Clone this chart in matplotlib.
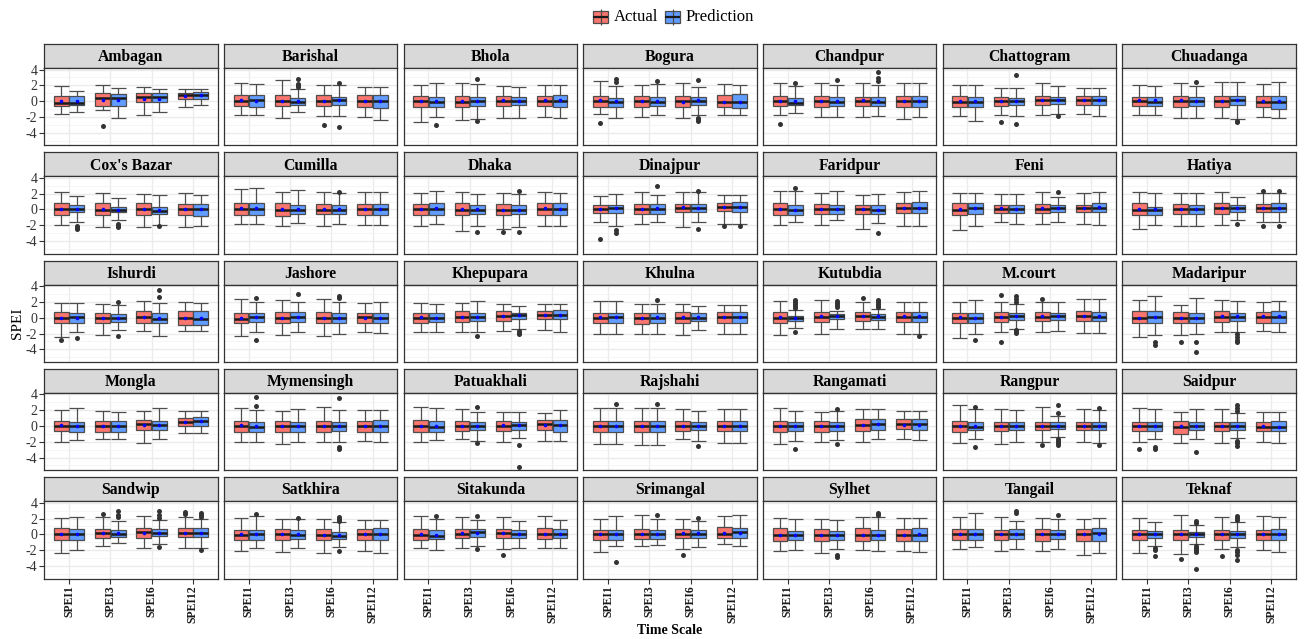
import matplotlib
matplotlib.use("Agg")
import matplotlib.pyplot as plt
from matplotlib.patches import Rectangle

plt.rcParams['font.family'] = ['Liberation Serif', 'DejaVu Serif']

STATIONS = [
    "Ambagan", "Barishal", "Bhola", "Bogura", "Chandpur", "Chattogram", "Chuadanga",
    "Cox's Bazar", "Cumilla", "Dhaka", "Dinajpur", "Faridpur", "Feni", "Hatiya",
    "Ishurdi", "Jashore", "Khepupara", "Khulna", "Kutubdia", "M.court", "Madaripur",
    "Mongla", "Mymensingh", "Patuakhali", "Rajshahi", "Rangamati", "Rangpur", "Saidpur",
    "Sandwip", "Satkhira", "Sitakunda", "Srimangal", "Sylhet", "Tangail", "Teknaf",
]
TIME_SCALES = ["SPEI1", "SPEI3", "SPEI6", "SPEI12"]
GROUPS = ["Actual", "Prediction"]

# Box order inside each station row:
# SPEI1-Actual, SPEI1-Prediction, SPEI3-Actual, SPEI3-Prediction,
# SPEI6-Actual, SPEI6-Prediction, SPEI12-Actual, SPEI12-Prediction
WHISKER_LOW = [
    [-1.67, -1.33, -1.17, -2.08, -1.75, -1.33, -0.75, -0.50],  # Ambagan
    [-1.75, -1.75, -2.10, -1.42, -1.83, -1.92, -2.00, -2.33],  # Barishal
    [-2.60, -1.96, -2.40, -2.30, -2.20, -2.10, -2.04, -2.20],  # Bhola
    [-1.62, -2.20, -1.96, -1.80, -2.10, -1.80, -1.80, -1.80],  # Bogura
    [-1.72, -1.45, -1.98, -1.98, -1.98, -1.90, -2.25, -2.07],  # Chandpur
    [-1.87, -2.54, -1.80, -1.87, -1.80, -1.62, -1.62, -1.87],  # Chattogram
    [-1.70, -1.70, -2.10, -2.10, -2.10, -2.30, -2.04, -2.10],  # Chuadanga
    [-1.92, -1.54, -2.20, -1.37, -2.20, -1.95, -2.20, -2.12],  # Cox's Bazar
    [-1.80, -1.83, -2.04, -1.70, -2.12, -1.80, -2.00, -2.00],  # Cumilla
    [-2.08, -1.83, -2.70, -2.04, -2.46, -2.20, -2.08, -2.12],  # Dhaka
    [-1.62, -2.04, -1.80, -1.54, -2.20, -1.54, -1.90, -1.90],  # Dinajpur
    [-1.96, -1.55, -2.00, -1.40, -2.45, -1.75, -2.10, -2.10],  # Faridpur
    [-2.62, -2.12, -1.54, -1.80, -1.80, -1.62, -1.80, -1.96],  # Feni
    [-2.46, -1.96, -2.12, -2.12, -1.96, -1.37, -1.54, -1.54],  # Hatiya
    [-2.46, -1.87, -2.20, -1.54, -1.70, -2.29, -1.62, -1.62],  # Ishurdi
    [-2.37, -1.87, -2.20, -1.87, -2.29, -2.04, -1.87, -1.96],  # Jashore
    [-1.83, -1.87, -1.75, -1.80, -1.67, -1.42, -1.58, -1.75],  # Khepupara
    [-2.12, -2.12, -2.04, -2.04, -2.20, -1.54, -2.00, -2.00],  # Khulna
    [-2.25, -1.32, -2.10, -1.37, -1.41, -1.37, -2.03, -2.00],  # Kutubdia
    [-2.62, -2.04, -1.87, -1.37, -1.80, -1.62, -1.96, -1.96],  # M.court
    [-2.46, -2.20, -2.20, -2.12, -1.87, -1.80, -1.70, -1.87],  # Madaripur
    [-2.00, -1.83, -1.62, -1.62, -2.17, -1.62, -0.92, -0.87],  # Mongla
    [-2.04, -2.04, -2.25, -2.08, -2.08, -2.08, -1.96, -2.04],  # Mymensingh
    [-2.00, -1.83, -1.62, -1.90, -2.00, -1.46, -1.87, -1.87],  # Patuakhali
    [-2.29, -2.29, -2.46, -2.37, -1.62, -1.96, -2.12, -2.12],  # Rajshahi
    [-2.25, -1.90, -1.98, -1.80, -2.03, -1.67, -1.63, -1.72],  # Rangamati
    [-2.20, -1.70, -2.29, -2.04, -2.04, -1.37, -2.04, -2.10],  # Rangpur
    [-2.04, -1.62, -2.20, -1.62, -2.20, -1.54, -2.04, -2.20],  # Saidpur
    [-2.42, -2.00, -1.50, -1.08, -1.70, -1.17, -1.70, -1.75],  # Sandwip
    [-2.08, -1.75, -2.25, -1.75, -2.33, -1.58, -2.17, -2.33],  # Satkhira
    [-1.79, -2.00, -1.79, -1.50, -1.87, -1.67, -1.70, -1.70],  # Sitakunda
    [-2.20, -1.42, -1.50, -1.37, -1.92, -1.58, -1.25, -1.50],  # Srimangal
    [-2.10, -1.98, -2.33, -1.80, -1.98, -2.10, -2.10, -2.25],  # Sylhet
    [-1.80, -1.58, -2.08, -1.80, -2.08, -1.80, -2.58, -2.42],  # Tangail
    [-2.33, -1.50, -2.50, -1.20, -1.83, -1.58, -2.00, -2.25],  # Teknaf
]
Q1 = [
    [-0.58, -0.50, -0.58, -0.67, -0.17, -0.17, 0.25, 0.33],
    [-0.67, -0.75, -0.67, -0.50, -0.67, -0.50, -0.75, -0.83],
    [-0.70, -0.70, -0.80, -0.62, -0.62, -0.54, -0.62, -0.70],
    [-0.70, -0.70, -0.70, -0.62, -0.70, -0.54, -0.80, -0.87],
    [-0.66, -0.53, -0.75, -0.66, -0.66, -0.57, -0.75, -0.75],
    [-0.80, -0.80, -0.62, -0.46, -0.46, -0.37, -0.46, -0.46],
    [-0.62, -0.62, -0.70, -0.62, -0.70, -0.54, -0.70, -0.96],
    [-0.70, -0.37, -0.70, -0.37, -0.70, -0.62, -0.70, -0.80],
    [-0.70, -0.70, -0.83, -0.62, -0.62, -0.54, -0.70, -0.70],
    [-0.70, -0.70, -0.70, -0.62, -0.70, -0.62, -0.70, -0.70],
    [-0.46, -0.46, -0.54, -0.54, -0.37, -0.30, -0.20, -0.30],
    [-0.72, -0.70, -0.55, -0.55, -0.55, -0.55, -0.50, -0.50],
    [-0.70, -0.54, -0.46, -0.46, -0.46, -0.30, -0.37, -0.37],
    [-0.70, -0.70, -0.62, -0.62, -0.54, -0.37, -0.37, -0.30],
    [-0.62, -0.62, -0.62, -0.54, -0.70, -0.62, -0.96, -0.96],
    [-0.62, -0.54, -0.62, -0.54, -0.70, -0.62, -0.70, -0.70],
    [-0.62, -0.58, -0.54, -0.46, -0.46, -0.20, -0.20, -0.20],
    [-0.70, -0.62, -0.80, -0.70, -0.70, -0.46, -0.62, -0.62],
    [-0.70, -0.40, -0.48, -0.18, -0.40, -0.35, -0.53, -0.53],
    [-0.70, -0.62, -0.54, -0.29, -0.46, -0.29, -0.46, -0.46],
    [-0.70, -0.62, -0.62, -0.62, -0.54, -0.46, -0.62, -0.62],
    [-0.62, -0.70, -0.70, -0.80, -0.46, -0.54, -0.04, 0.04],
    [-0.70, -0.80, -0.70, -0.70, -0.70, -0.62, -0.70, -0.80],
    [-0.75, -0.75, -0.67, -0.54, -0.67, -0.54, -0.54, -0.70],
    [-0.75, -0.75, -0.75, -0.75, -0.67, -0.54, -0.67, -0.67],
    [-0.75, -0.66, -0.75, -0.57, -0.57, -0.48, -0.40, -0.48],
    [-0.75, -0.54, -0.62, -0.54, -0.54, -0.37, -0.54, -0.54],
    [-0.62, -0.62, -0.96, -0.54, -0.62, -0.46, -0.62, -0.62],
    [-0.67, -0.67, -0.46, -0.33, -0.42, -0.25, -0.33, -0.33],
    [-0.67, -0.67, -0.67, -0.58, -0.75, -0.58, -0.75, -0.75],
    [-0.75, -0.62, -0.50, -0.33, -0.50, -0.50, -0.58, -0.50],
    [-0.67, -0.67, -0.58, -0.58, -0.50, -0.50, -0.42, -0.42],
    [-0.88, -0.75, -0.84, -0.66, -0.84, -0.75, -0.84, -0.84],
    [-0.75, -0.75, -0.67, -0.58, -0.83, -0.58, -0.83, -0.83],
    [-0.67, -0.42, -0.67, -0.33, -0.75, -0.42, -0.67, -0.67],
]
MEDIAN = [
    [-0.25, -0.20, 0.40, 0.37, 0.54, 0.50, 0.75, 0.83],
    [0.00, 0.08, 0.00, -0.17, 0.00, 0.08, 0.00, 0.00],
    [0.00, -0.08, -0.10, 0.00, 0.04, -0.04, 0.04, 0.04],
    [0.00, -0.12, 0.00, -0.17, -0.04, 0.04, -0.08, -0.12],
    [-0.04, -0.22, -0.04, -0.13, -0.04, -0.13, -0.04, -0.04],
    [-0.08, -0.08, -0.04, -0.04, 0.12, 0.12, 0.12, 0.12],
    [0.00, -0.08, 0.00, -0.04, 0.00, 0.08, -0.08, -0.17],
    [0.00, 0.00, -0.08, -0.08, 0.00, -0.20, 0.04, 0.00],
    [0.00, 0.00, -0.04, -0.04, -0.04, -0.04, 0.00, 0.00],
    [0.00, 0.04, -0.04, -0.04, -0.08, -0.04, 0.04, 0.04],
    [0.00, 0.12, 0.00, 0.08, 0.20, 0.20, 0.30, 0.30],
    [0.00, -0.12, 0.04, 0.04, 0.04, -0.04, 0.12, 0.12],
    [-0.04, 0.12, 0.08, 0.04, 0.08, 0.17, 0.12, 0.12],
    [-0.04, -0.12, 0.00, 0.00, 0.12, 0.12, 0.12, 0.12],
    [-0.08, 0.04, -0.04, -0.08, 0.04, -0.17, -0.04, -0.17],
    [-0.12, 0.04, -0.04, 0.04, -0.04, -0.04, 0.04, -0.04],
    [-0.04, 0.00, 0.04, 0.12, 0.17, 0.29, 0.37, 0.29],
    [0.00, 0.04, -0.08, 0.00, 0.00, 0.00, 0.04, 0.04],
    [-0.04, -0.09, 0.13, 0.18, 0.18, 0.09, 0.09, 0.09],
    [-0.08, -0.08, 0.08, 0.20, 0.12, 0.20, 0.20, 0.12],
    [-0.04, 0.04, -0.04, -0.04, 0.12, 0.12, 0.12, 0.12],
    [0.00, 0.00, 0.00, 0.00, 0.20, 0.12, 0.54, 0.62],
    [0.04, -0.12, 0.00, 0.00, -0.04, 0.00, 0.00, 0.00],
    [-0.04, -0.08, 0.04, -0.04, 0.00, 0.12, 0.25, 0.17],
    [-0.04, -0.04, 0.04, 0.00, 0.04, -0.04, 0.00, 0.00],
    [-0.04, -0.04, -0.04, 0.04, 0.13, 0.22, 0.22, 0.22],
    [-0.04, -0.12, -0.04, 0.04, -0.04, -0.04, 0.00, 0.00],
    [-0.04, 0.00, -0.12, -0.04, -0.04, -0.04, -0.12, -0.12],
    [0.00, 0.08, 0.17, 0.08, 0.25, 0.20, 0.20, 0.20],
    [-0.08, 0.08, 0.00, -0.08, -0.08, -0.17, 0.08, 0.08],
    [-0.04, -0.25, 0.08, 0.25, 0.17, 0.00, 0.08, 0.08],
    [0.00, 0.00, 0.08, 0.00, 0.08, 0.08, 0.08, 0.25],
    [-0.04, -0.09, -0.04, -0.13, -0.04, -0.13, -0.04, -0.04],
    [0.00, 0.08, 0.00, 0.08, 0.00, 0.08, 0.00, 0.17],
    [0.00, 0.08, 0.00, 0.08, 0.00, 0.08, 0.00, 0.00],
]
Q3 = [
    [0.67, 0.67, 1.00, 0.92, 1.08, 1.00, 1.08, 1.17],
    [0.75, 0.75, 0.75, 0.42, 0.75, 0.58, 0.75, 0.75],
    [0.70, 0.54, 0.70, 0.54, 0.70, 0.54, 0.70, 0.83],
    [0.62, 0.37, 0.70, 0.54, 0.70, 0.54, 0.80, 0.96],
    [0.70, 0.44, 0.70, 0.57, 0.57, 0.57, 0.70, 0.70],
    [0.70, 0.54, 0.54, 0.37, 0.70, 0.54, 0.70, 0.70],
    [0.54, 0.54, 0.70, 0.54, 0.70, 0.70, 0.70, 0.70],
    [0.80, 0.50, 0.80, 0.37, 0.80, 0.37, 0.70, 0.70],
    [0.80, 0.80, 0.80, 0.62, 0.70, 0.54, 0.70, 0.70],
    [0.70, 0.87, 0.80, 0.58, 0.67, 0.50, 0.80, 0.80],
    [0.54, 0.62, 0.70, 0.70, 0.70, 0.70, 0.87, 0.96],
    [0.80, 0.60, 0.70, 0.60, 0.60, 0.50, 0.80, 0.90],
    [0.80, 0.80, 0.62, 0.54, 0.70, 0.54, 0.62, 0.80],
    [0.80, 0.37, 0.70, 0.54, 0.80, 0.54, 0.70, 0.80],
    [0.70, 0.62, 0.62, 0.46, 0.80, 0.54, 0.87, 0.87],
    [0.62, 0.62, 0.70, 0.70, 0.70, 0.62, 0.62, 0.62],
    [0.54, 0.54, 0.80, 0.54, 0.80, 0.62, 0.87, 0.96],
    [0.62, 0.62, 0.62, 0.62, 0.70, 0.54, 0.70, 0.70],
    [0.70, 0.26, 0.70, 0.53, 0.75, 0.53, 0.70, 0.70],
    [0.62, 0.54, 0.70, 0.54, 0.70, 0.62, 0.80, 0.70],
    [0.80, 0.80, 0.70, 0.62, 0.80, 0.62, 0.70, 0.80],
    [0.62, 0.54, 0.62, 0.70, 0.80, 0.70, 0.96, 1.12],
    [0.62, 0.54, 0.70, 0.54, 0.62, 0.54, 0.70, 0.80],
    [0.80, 0.62, 0.62, 0.50, 0.70, 0.50, 0.80, 0.80],
    [0.62, 0.62, 0.70, 0.70, 0.70, 0.50, 0.62, 0.62],
    [0.66, 0.48, 0.66, 0.48, 0.84, 0.84, 0.84, 0.84],
    [0.62, 0.46, 0.54, 0.54, 0.54, 0.46, 0.54, 0.54],
    [0.46, 0.46, 0.62, 0.54, 0.54, 0.46, 0.54, 0.70],
    [0.75, 0.67, 0.67, 0.50, 0.80, 0.67, 0.75, 0.75],
    [0.58, 0.58, 0.67, 0.50, 0.67, 0.33, 0.67, 0.75],
    [0.70, 0.50, 0.67, 0.62, 0.67, 0.58, 0.75, 0.67],
    [0.58, 0.50, 0.67, 0.50, 0.67, 0.50, 0.92, 0.83],
    [0.75, 0.48, 0.66, 0.48, 0.75, 0.57, 0.66, 0.75],
    [0.67, 0.67, 0.58, 0.67, 0.67, 0.58, 0.67, 0.75],
    [0.58, 0.42, 0.58, 0.33, 0.58, 0.42, 0.50, 0.67],
]
WHISKER_HIGH = [
    [1.90, 1.33, 2.00, 1.67, 1.75, 1.50, 1.58, 1.58],
    [2.25, 2.17, 2.67, 1.58, 2.00, 2.05, 1.75, 1.83],
    [2.08, 2.30, 2.30, 2.20, 1.96, 1.80, 2.04, 2.04],
    [2.54, 1.87, 2.04, 2.20, 2.30, 1.80, 2.20, 2.10],
    [2.33, 1.95, 2.33, 2.03, 2.25, 2.07, 2.33, 2.25],
    [2.10, 2.04, 1.70, 1.70, 2.30, 1.87, 1.62, 1.70],
    [2.10, 1.96, 2.30, 1.96, 2.37, 2.37, 2.20, 2.37],
    [2.25, 1.67, 2.04, 1.46, 1.92, 1.80, 2.04, 1.83],
    [2.60, 2.70, 2.25, 2.46, 2.25, 2.05, 2.17, 2.17],
    [2.12, 2.33, 2.25, 1.92, 2.12, 1.92, 2.17, 2.08],
    [1.70, 1.96, 2.20, 1.87, 2.20, 2.20, 1.87, 1.87],
    [2.30, 2.30, 2.10, 2.30, 1.80, 2.00, 2.20, 2.30],
    [2.04, 2.12, 1.96, 1.96, 2.20, 1.62, 2.12, 2.20],
    [2.20, 2.12, 2.04, 2.04, 2.20, 1.62, 2.12, 2.12],
    [1.92, 1.92, 1.80, 1.67, 2.17, 1.92, 2.00, 1.92],
    [2.42, 2.04, 2.29, 2.04, 2.37, 2.04, 1.92, 1.96],
    [1.92, 1.70, 1.92, 2.08, 1.70, 1.54, 1.80, 1.70],
    [2.08, 2.08, 1.80, 1.80, 1.80, 1.46, 1.67, 1.67],
    [2.07, 0.97, 2.20, 0.88, 1.94, 1.06, 1.94, 1.94],
    [2.04, 2.29, 2.04, 1.70, 1.96, 1.96, 2.37, 2.37],
    [2.20, 2.70, 1.62, 2.54, 2.20, 2.12, 2.04, 2.12],
    [2.00, 2.29, 1.87, 1.75, 1.87, 2.25, 1.96, 1.96],
    [2.25, 2.00, 1.87, 2.12, 2.37, 2.00, 2.00, 2.00],
    [2.37, 2.29, 2.17, 1.75, 1.75, 1.75, 1.70, 2.04],
    [2.29, 2.29, 2.29, 2.29, 2.20, 1.96, 2.17, 2.17],
    [2.25, 1.90, 1.80, 1.90, 2.16, 2.16, 1.90, 1.90],
    [2.62, 2.10, 2.20, 2.04, 2.37, 1.30, 2.20, 2.00],
    [2.29, 2.20, 1.80, 2.12, 2.12, 1.62, 1.80, 1.80],
    [2.08, 2.17, 2.17, 1.75, 2.33, 1.80, 2.25, 1.92],
    [2.08, 2.30, 1.92, 1.90, 1.92, 1.50, 1.83, 1.83],
    [2.29, 2.00, 2.20, 1.80, 2.20, 1.75, 2.29, 1.83],
    [1.96, 2.33, 2.50, 1.92, 1.96, 1.70, 2.33, 2.42],
    [2.07, 1.98, 1.90, 1.80, 2.25, 2.15, 2.07, 2.07],
    [2.25, 2.67, 2.17, 1.67, 2.08, 1.92, 1.96, 2.08],
    [2.08, 1.58, 2.42, 1.20, 2.25, 1.58, 2.33, 2.17],
]
MEAN = [
    [0.05, 0.04, 0.20, 0.15, 0.33, 0.33, 0.70, 0.75],
    [0.10, 0.00, 0.05, 0.00, 0.05, 0.17, 0.00, 0.00],
    [0.00, 0.00, 0.00, 0.04, 0.08, 0.00, 0.08, 0.08],
    [0.08, -0.04, 0.00, 0.00, -0.08, 0.08, -0.08, -0.08],
    [0.04, -0.04, -0.04, -0.04, 0.09, 0.04, 0.04, 0.04],
    [-0.04, -0.04, -0.04, -0.04, 0.17, 0.20, 0.12, 0.12],
    [0.08, 0.08, 0.08, 0.00, 0.04, 0.12, 0.00, -0.04],
    [0.00, 0.08, 0.00, -0.04, 0.00, -0.08, 0.00, 0.00],
    [0.12, 0.12, 0.00, 0.00, 0.00, 0.00, 0.00, 0.00],
    [0.08, 0.17, 0.04, 0.04, -0.12, -0.04, 0.12, 0.08],
    [0.04, 0.12, 0.04, 0.12, 0.25, 0.20, 0.33, 0.33],
    [0.04, -0.04, 0.04, 0.04, 0.00, -0.04, 0.12, 0.12],
    [0.04, 0.20, 0.12, 0.08, 0.12, 0.20, 0.17, 0.25],
    [0.08, 0.00, 0.04, 0.04, 0.17, 0.17, 0.17, 0.17],
    [-0.04, 0.00, 0.00, 0.00, 0.12, -0.04, 0.00, -0.04],
    [0.00, 0.12, 0.00, 0.08, -0.04, 0.00, -0.08, -0.08],
    [0.04, 0.00, 0.12, 0.08, 0.20, 0.29, 0.37, 0.37],
    [0.04, 0.08, 0.00, 0.04, 0.04, 0.04, 0.08, 0.08],
    [0.09, 0.00, 0.26, 0.26, 0.26, 0.18, 0.22, 0.18],
    [0.04, -0.04, 0.12, 0.20, 0.17, 0.25, 0.25, 0.20],
    [0.00, 0.08, -0.04, 0.00, 0.17, 0.17, 0.17, 0.17],
    [0.08, 0.00, 0.00, 0.00, 0.12, 0.17, 0.50, 0.58],
    [0.08, -0.04, 0.00, 0.00, 0.00, 0.00, 0.00, 0.00],
    [0.00, 0.00, 0.04, 0.00, 0.08, 0.08, 0.08, 0.08],
    [-0.04, -0.04, 0.04, 0.04, 0.04, -0.04, 0.00, 0.00],
    [-0.04, -0.04, -0.04, 0.04, 0.13, 0.22, 0.18, 0.18],
    [0.04, -0.04, 0.00, 0.04, 0.00, -0.04, 0.04, 0.04],
    [0.00, 0.04, -0.04, 0.00, 0.00, 0.04, -0.04, -0.08],
    [0.04, 0.04, 0.20, 0.17, 0.20, 0.20, 0.20, 0.20],
    [0.00, 0.04, 0.00, 0.00, -0.08, -0.12, 0.00, 0.04],
    [0.00, -0.04, 0.12, 0.17, 0.12, 0.00, 0.08, 0.08],
    [0.04, 0.00, 0.08, 0.04, 0.12, 0.12, 0.17, 0.20],
    [-0.04, -0.04, -0.04, -0.04, -0.04, -0.04, -0.04, 0.04],
    [0.04, 0.08, 0.00, 0.08, 0.00, 0.08, 0.00, 0.00],
    [0.00, 0.04, 0.00, 0.04, 0.04, 0.04, 0.08, 0.04],
]
# Points beyond the whiskers, keyed by station, then by box position (0-7)
OUTLIERS = {
    "Ambagan": {2: [-3.2]},
    "Barishal": {3: [2.75, 2.2, 2.0, 1.85], 4: [-3.0], 5: [2.25, -3.25]},
    "Bhola": {1: [-3.0], 3: [2.85, -2.55]},
    "Bogura": {0: [-2.8], 1: [2.75, 2.4], 3: [2.6], 5: [2.67, -2.1, -2.3, -2.5]},
    "Chandpur": {0: [-2.86], 1: [2.3], 3: [2.73], 5: [3.74, 2.95, 2.5]},
    "Chattogram": {2: [-2.67], 3: [3.37, -2.96], 5: [-1.9]},
    "Chuadanga": {3: [2.46], 5: [-2.54, -2.7]},
    "Cox's Bazar": {1: [-2.04, -2.3, -2.54], 3: [-1.8, -2.04, -2.2], 5: [-2.15]},
    "Cumilla": {5: [2.2]},
    "Dhaka": {3: [-2.83], 4: [-2.87], 5: [2.33, -2.9]},
    "Dinajpur": {0: [-3.7], 1: [-2.67, -2.96], 3: [2.96], 5: [2.35, -2.46], 6: [-2.1], 7: [-2.1]},
    "Faridpur": {1: [2.75], 5: [-2.95]},
    "Feni": {5: [2.17]},
    "Hatiya": {5: [-1.87], 6: [2.37, -2.12], 7: [2.37, -2.04]},
    "Ishurdi": {0: [-2.79], 1: [-2.62], 3: [2.0, -2.29], 5: [3.46, 2.62]},
    "Jashore": {1: [2.54, -2.87], 3: [3.04], 5: [2.8, 2.54]},
    "Khepupara": {3: [-2.33], 5: [-1.65, -1.9, -2.1]},
    "Khulna": {3: [2.29]},
    "Kutubdia": {1: [2.3, 2.0, 1.7, 1.45, 1.2, -1.76], 3: [2.07, 1.85, 1.63, 1.4], 4: [2.55],
                 5: [2.3, 2.0, 1.75, 1.5, 1.3], 7: [-2.35]},
    "M.court": {1: [-2.87], 2: [2.83, -3.04], 3: [2.75, 2.37, 2.0, -1.54, -1.8, -1.96], 4: [2.37]},
    "Madaripur": {1: [-3.12, -3.4], 2: [-3.12], 3: [-3.04, -4.3], 5: [-2.04, -2.46, -2.8, -3.1]},
    "Mongla": {},
    "Mymensingh": {1: [3.62, 2.54], 5: [3.54, -2.7, -2.96]},
    "Patuakhali": {3: [2.42, -2.1], 5: [-2.37, -5.2]},
    "Rajshahi": {1: [2.8], 3: [2.8], 5: [-2.54]},
    "Rangamati": {1: [-2.9], 3: [2.1, -2.33]},
    "Rangpur": {1: [2.35, -2.7], 4: [-2.46], 5: [2.7, 1.7, -1.6, -1.87, -2.2, -2.46], 7: [2.3, -2.4]},
    "Saidpur": {0: [-2.87], 1: [-2.7, -2.96], 3: [-3.29], 5: [2.62, 2.29, 1.87, -1.87, -2.2, -2.54]},
    "Sandwip": {2: [2.62], 3: [2.96, 2.42, 2.17], 5: [3.0, 2.4, 2.1, -1.6], 6: [2.83, 2.58],
                7: [2.7, 2.46, 2.25, -2.0]},
    "Satkhira": {1: [2.6], 3: [2.1], 5: [2.25, 2.0, 1.75, -2.08]},
    "Sitakunda": {1: [2.29], 3: [2.3, -1.85], 4: [-2.62]},
    "Srimangal": {1: [-3.46], 3: [2.42], 4: [-2.58], 5: [2.1]},
    "Sylhet": {3: [-2.6, -2.86], 5: [2.7, 2.4]},
    "Tangail": {3: [3.0, 2.75], 5: [2.42]},
    "Teknaf": {1: [-1.75, -2.0, -2.75], 2: [-3.12],
               3: [1.45, 1.7, -1.5, -1.7, -1.9, -2.1, -2.3, -4.4], 4: [-2.75],
               5: [2.33, 2.1, 1.85, -2.0, -2.3, -2.6, -3.3]},
}

FILL = {"Actual": "#F8766D", "Prediction": "#619CFF"}
EDGE = "#4D4D4D"
DARK = "#333333"

W, H = 1306, 639
fig = plt.figure(figsize=(W / 100, H / 100), dpi=100)


def frect(x, ytop, w, h):
    return [x / W, 1 - (ytop + h) / H, w / W, h / H]


COL_X0, COL_STEP, PANEL_W = 44.3, 179.67, 173.4
ROW_Y0, ROW_STEP, STRIP_H, PANEL_H = 44.0, 108.3, 24.0, 77.3
BOX_W = 0.36
OFFSET = {"Actual": -0.1875, "Prediction": 0.1875}
NCOL = 7
NROW = 5

for i, name in enumerate(STATIONS):
    r, c = divmod(i, NCOL)
    x0 = COL_X0 + c * COL_STEP
    y0 = ROW_Y0 + r * ROW_STEP

    # facet strip
    sax = fig.add_axes(frect(x0, y0, PANEL_W, STRIP_H))
    sax.set_facecolor("#D9D9D9")
    sax.set_xticks([])
    sax.set_yticks([])
    for sp in sax.spines.values():
        sp.set_color(DARK)
        sp.set_linewidth(0.9)
    sax.text(0.5, 0.45, name, ha="center", va="center", fontsize=11.3,
             fontweight="bold", transform=sax.transAxes)

    # panel
    ax = fig.add_axes(frect(x0, y0 + STRIP_H, PANEL_W, PANEL_H))
    ax.set_xlim(0.4, 4.6)
    ax.set_ylim(-5.6, 4.2)
    ax.set_yticks([-4, -2, 0, 2, 4])
    ax.set_yticks([-5, -3, -1, 1, 3], minor=True)
    ax.set_xticks([1, 2, 3, 4])
    ax.grid(which="major", color="#EBEBEB", linewidth=1.0, zorder=0)
    ax.grid(which="minor", axis="y", color="#F4F4F4", linewidth=0.6, zorder=0)
    ax.set_axisbelow(True)
    for sp in ax.spines.values():
        sp.set_color(DARK)
        sp.set_linewidth(0.9)
        sp.set_zorder(10)
    ax.tick_params(which="minor", length=0)
    ax.tick_params(axis="both", which="major", color=DARK, length=3.5, width=0.8, pad=1.5)

    if c == 0:
        ax.set_yticklabels(["-4", "-2", "0", "2", "4"], fontsize=10, color="#333333")
    else:
        ax.tick_params(axis="y", which="major", length=0, labelleft=False)
    if r == NROW - 1:
        ax.set_xticklabels(TIME_SCALES, rotation=90, fontsize=8.5, fontweight="bold",
                           color="#1A1A1A")
    else:
        ax.tick_params(axis="x", which="major", length=0, labelbottom=False)

    outl = OUTLIERS.get(name, {})
    for k, ts in enumerate(TIME_SCALES):
        for g, grp in enumerate(GROUPS):
            j = 2 * k + g
            x = k + 1 + OFFSET[grp]
            lo, q1, md = WHISKER_LOW[i][j], Q1[i][j], MEDIAN[i][j]
            q3, hi, mn = Q3[i][j], WHISKER_HIGH[i][j], MEAN[i][j]
            half = BOX_W / 2
            ax.vlines(x, lo, hi, color=EDGE, linewidth=0.9, zorder=2)
            ax.hlines([lo, hi], x - half, x + half, color=EDGE, linewidth=0.9, zorder=2)
            ax.add_patch(Rectangle((x - half, q1), BOX_W, q3 - q1, facecolor=FILL[grp],
                                   edgecolor=EDGE, linewidth=0.9, zorder=3))
            ax.hlines(md, x - half, x + half, color="#1A1A1A", linewidth=1.8, zorder=4)
            pts = outl.get(j, [])
            if pts:
                ax.plot([x] * len(pts), pts, "o", color=DARK, markersize=3.6,
                        markeredgewidth=0, zorder=5)
            ax.plot([x], [mn], "o", color="blue", markersize=2.6, markeredgewidth=0, zorder=6)

# axis titles
fig.text(17 / W, 1 - 323 / H, "SPEI", rotation=90, ha="center", va="center", fontsize=11)
fig.text(670 / W, 1 - 630 / H, "Time Scale", ha="center", va="center", fontsize=10,
         fontweight="bold")

# legend drawn in pixel space on an overlay
lax = fig.add_axes([0, 0, 1, 1], facecolor="none")
lax.set_xlim(0, W)
lax.set_ylim(H, 0)
lax.axis("off")
legend_items = [("Actual", 592), ("Prediction", 664)]
for grp, kx in legend_items:
    kw, kh, ky = 17, 17, 8
    lax.vlines(kx + kw / 2, ky + 0.5, ky + kh - 0.5, color=EDGE, linewidth=0.9)
    lax.add_patch(Rectangle((kx + 1, ky + 2.5), kw - 2, kh - 5, facecolor=FILL[grp],
                            edgecolor=EDGE, linewidth=0.9))
    lax.hlines(ky + kh / 2, kx + 1, kx + kw - 1, color="#1A1A1A", linewidth=1.6)
    lax.text(kx + kw + 5, ky + kh / 2 + 0.5, grp, ha="left", va="center", fontsize=12)

fig.savefig("out.png", dpi=100, facecolor="white")
